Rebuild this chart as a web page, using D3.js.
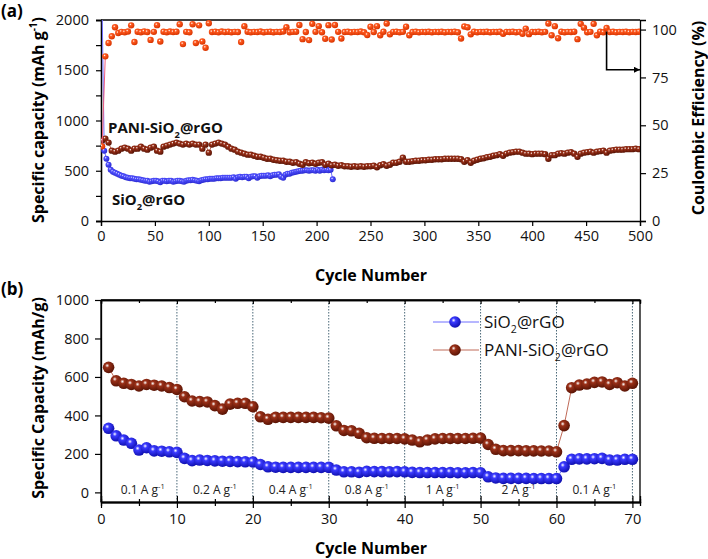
<!DOCTYPE html>
<html><head><meta charset="utf-8">
<script src="https://cdn.jsdelivr.net/npm/d3@7"></script>
<style>body{margin:0;background:#fff} text{font-family:"Open Sans",sans-serif}</style>
</head><body><svg id="c" width="708" height="559"></svg>
<script>
// ---------- Panel (a) data ----------
const cycleTicksA = [0,50,100,150,200,250,300,350,400,450,500];
const capTicksA = [0,500,1000,1500,2000];
const ceTicksA = [0,25,50,75,100];
// SiO2@rGO, cycles 1,3,5,...
const stepSiO2A = 2;
const siO2A = [2150,700,620,560,510,490,480,470,460,450,445,435,430,425,425,420,415,415,410,405,
 400,400,390,395,400,400,395,385,400,400,395,400,400,390,395,400,400,395,390,400,
 405,405,410,405,400,395,405,410,415,415,420,420,420,425,425,425,430,430,430,430,
 430,435,420,435,440,435,440,440,425,440,445,445,430,445,450,450,450,455,445,455,
 460,460,465,440,430,460,470,470,480,485,490,495,500,500,505,505,500,505,505,500,
 510,500,510,505,510,505,510,415];
// PANI-SiO2@rGO, cycles 1,4,7,...
const stepPaniA = 3;
const paniA = [800,820,780,700,690,700,720,730,720,700,720,720,740,720,710,730,740,700,690,740,
 750,760,770,780,770,760,770,760,770,760,760,720,760,680,760,770,780,770,760,740,
 720,710,690,680,670,660,660,650,640,640,630,620,620,610,605,600,600,590,590,580,
 585,570,560,585,575,580,570,580,585,560,570,555,560,550,555,545,545,540,545,540,
 545,540,545,545,550,535,555,565,550,560,580,580,590,630,590,590,595,600,600,605,
 605,610,610,615,615,615,620,620,620,620,620,615,590,605,580,600,610,620,625,635,
 640,650,655,665,650,670,680,685,690,690,680,670,670,665,670,670,670,665,620,655,
 655,670,675,670,680,685,670,640,670,680,685,690,680,690,695,700,680,700,705,710,
 710,710,715,715,715,720,715];
// Coulombic efficiency (%), cycles 1,4,7,...
const stepCEA = 3;
const ceA = [39,86,93,96.5,101.2,98.2,98.8,98.6,99.0,102.2,93.5,98.9,98.6,99.0,98.7,94.6,98.8,102.3,93.8,98.9,
 98.6,99.0,98.7,98.9,102.8,92.4,98.8,98.6,102.8,93.0,102.2,93.8,90.5,103.3,98.7,98.9,98.6,99.0,98.7,98.9,
 98.6,98.8,98.7,93.5,101.8,98.9,98.6,98.8,98.7,99.0,98.6,98.8,98.9,98.6,98.8,98.7,99.0,101.2,98.6,98.8,
 98.9,102.4,95.0,98.7,94.5,103.0,98.8,101.8,98.6,95.2,102.3,94.8,102.4,98.8,95.3,98.7,98.9,98.6,98.8,98.7,
 99.0,98.6,97.2,101.5,98.7,101.8,97.0,98.9,103.2,97.5,98.8,98.9,98.6,98.8,101.5,97.0,98.7,98.9,98.6,98.8,
 98.7,98.9,98.6,98.8,98.7,98.9,98.6,98.8,98.7,98.9,98.6,95.3,101.6,101.2,97.5,98.9,98.6,98.8,98.7,98.9,
 98.6,98.8,98.7,98.9,97.8,98.8,98.7,98.9,98.6,98.8,97.8,100.5,97.6,98.8,98.7,98.9,98.6,98.8,103.2,97.0,
 101.8,95.5,98.9,98.6,98.8,98.7,98.9,95.0,103.0,101.0,98.6,98.8,103.0,97.0,98.9,98.6,100.8,98.7,98.9,98.6,
 98.8,98.7,98.9,98.6,98.8,98.7,98.9];

// ---------- Panel (b) data ----------
const cyclesB = d3.range(1, 71);
const cycleTicksB = [0,10,20,30,40,50,60,70];
const capTicksB = [0,200,400,600,800,1000];
const rateBounds = [10,20,30,40,50,60,70];
const rateLabels = ["0.1","0.2","0.4","0.8","1","2","0.1"];
const rateLabelPos = [5.5,15,25,35,45,55,65];
const siO2B = [333,294,272,255,220,232,216,214,211,208, 177,165,168,166,164,162,161,160,159,158,
 145,133,131,130,130,130,130,130,130,130, 116,107,107,104,109,108,108,107,108,107,
 104,103,103,103,103,103,102,102,103,102, 81,75,73,73,73,73,72,72,72,72,
 133,172,174,174,175,177,168,168,172,172];
const paniB = [650,580,567,561,553,561,557,553,545,535, 497,475,472,470,451,433,459,463,463,445,
 393,380,390,390,390,390,390,390,388,386, 346,322,320,307,284,281,280,280,280,278,
 272,263,272,278,280,280,280,280,281,282, 249,224,217,217,217,216,216,215,215,211,
 347,544,558,563,572,574,561,570,553,567];

const C = {blueLine:"#6f6fff", brownLine:"#c06a58", orangeLine:"#ff6a3a"};

const svg = d3.select("#c");
const defs = svg.append("defs");
function grad(id, base, dark) {
  const g = defs.append("radialGradient").attr("id", id).attr("cx","38%").attr("cy","35%").attr("r","65%");
  g.append("stop").attr("offset","0%").attr("stop-color","#ffffff");
  g.append("stop").attr("offset","28%").attr("stop-color",base);
  g.append("stop").attr("offset","100%").attr("stop-color",dark);
}
grad("gBlue","#3a3aff","#1010b0");
grad("gBlueA","#5050ff","#2a2ad0");
grad("gBrown","#9a3018","#5a1405");
grad("gOrange","#ff5a20","#d83400");

function rich(sel, parts, fs) {
  let off = 0;
  parts.forEach(p => {
    const target = p.sub ? fs*0.3 : p.sup ? -fs*0.42 : 0;
    const ts = sel.append("tspan").text(p.t).attr("dy", target - off);
    if (p.sub || p.sup) ts.attr("font-size", fs*0.62);
    off = target;
  });
}
const fmt = d3.format("d");
const TF = 14.5;

// ================= Panel (a) =================
const xA = d3.scaleLinear().domain([0,500]).range([101,640]);
const yA = d3.scaleLinear().domain([0,2000]).range([221,20]);
const yCE = d3.scaleLinear().domain([0,105]).range([221,20]);
const gA = svg.append("g");
defs.append("clipPath").attr("id","clipA").append("rect").attr("x",101).attr("y",20).attr("width",539).attr("height",201);

gA.append("g").attr("transform","translate(0,221)")
  .call(d3.axisBottom(xA).tickValues(cycleTicksA).tickSize(5).tickPadding(5).tickFormat(fmt));
gA.append("g").attr("transform","translate(101,0)")
  .call(d3.axisLeft(yA).tickValues(capTicksA).tickSize(5).tickPadding(7).tickFormat(fmt));
gA.append("g").attr("transform","translate(101,0)")
  .call(d3.axisLeft(yA).tickValues([250,750,1250,1750]).tickSize(5).tickFormat(""));
gA.append("g").attr("transform","translate(640,0)")
  .call(d3.axisRight(yCE).tickValues(ceTicksA).tickSize(6).tickPadding(6).tickFormat(fmt));
gA.append("line").attr("x1",101).attr("x2",640).attr("y1",20).attr("y2",20).attr("stroke","#000").attr("stroke-width",1.3);
gA.selectAll(".domain").attr("stroke","#000").attr("stroke-width",1.3);
gA.selectAll(".tick line").attr("stroke","#000").attr("stroke-width",1.2);
gA.selectAll(".tick text").attr("font-size",TF).attr("fill","#111").attr("font-family","Open Sans");

const plotA = gA.append("g").attr("clip-path","url(#clipA)");
function series(g, xs, ys, cx, cy, lineCol, lw, fill, r, lineN) {
  const pts = xs.map((x,i)=>[x, ys[i]]);
  const lp = lineN ? pts.slice(0, lineN) : pts;
  g.append("path").attr("d", d3.line().x(d=>cx(d[0])).y(d=>cy(d[1]))(lp))
    .attr("fill","none").attr("stroke",lineCol).attr("stroke-width",lw);
  g.append("g").selectAll("circle").data(pts).join("circle")
    .attr("cx",d=>cx(d[0])).attr("cy",d=>cy(d[1])).attr("r",r).attr("fill",fill);
}
const cycS = siO2A.map((_,i)=>1+i*stepSiO2A);
const cycP = paniA.map((_,i)=>1+i*stepPaniA);
const cycC = ceA.map((_,i)=>1+i*stepCEA);
series(plotA, cycS, siO2A, xA, yA, C.blueLine, 1, "url(#gBlueA)", 3);
series(plotA, cycP, paniA, xA, yA, C.brownLine, 1, "url(#gBrown)", 3.2);
series(plotA, cycC, ceA, xA, yCE, "#f06080", 1, "url(#gOrange)", 3.2, 2);

// arrow
defs.append("marker").attr("id","arr").attr("viewBox","0 0 10 10").attr("refX",10).attr("refY",5)
  .attr("markerWidth",14).attr("markerHeight",6).attr("markerUnits","userSpaceOnUse").attr("orient","auto")
  .append("path").attr("d","M0,0 L10,5 L0,10 z").attr("fill","#000");
gA.append("path").attr("d",`M${xA(469)},${yCE(99)} V${yCE(79)} H${xA(500)}`)
  .attr("fill","none").attr("stroke","#000").attr("stroke-width",1.6).attr("marker-end","url(#arr)");

// annotations
rich(gA.append("text").attr("x",108).attr("y",133).attr("font-size",15).attr("font-weight","bold").attr("fill","#111"),
  [{t:"PANI-SiO"},{t:"2",sub:true},{t:"@rGO"}],15);
rich(gA.append("text").attr("x",112).attr("y",205).attr("font-size",15).attr("font-weight","bold").attr("fill","#111"),
  [{t:"SiO"},{t:"2",sub:true},{t:"@rGO"}],15);

// titles
gA.append("text").attr("x",371).attr("y",281).attr("text-anchor","middle").attr("font-size",16).attr("font-weight","bold").text("Cycle Number");
rich(gA.append("text").attr("transform","translate(44,120) rotate(-90)").attr("text-anchor","middle").attr("font-size",16).attr("font-weight","bold"),
  [{t:"Specific capacity (mAh g"},{t:"-1",sup:true},{t:")"}],16);
gA.append("text").attr("transform","translate(704,118) rotate(-90)").attr("text-anchor","middle").attr("font-size",16).attr("font-weight","bold").text("Coulombic Efficiency (%)");
svg.append("text").attr("x",1).attr("y",17).attr("font-size",17).attr("font-weight","bold").text("(a)");

// ================= Panel (b) =================
const xB = d3.scaleLinear().domain([0,71]).range([101,640]);
const yB = d3.scaleLinear().domain([-50,1000]).range([502,300]);
const gB = svg.append("g");
// dotted separators
gB.append("g").selectAll("line").data(rateBounds).join("line")
  .attr("x1",d=>xB(d)).attr("x2",d=>xB(d)).attr("y1",300).attr("y2",502)
  .attr("stroke","#4a6878").attr("stroke-width",1).attr("stroke-dasharray","1.5,1.5");
const minorB = [5,15,25,35,45,55,65];
// axes
gB.append("g").attr("transform","translate(0,502)")
  .call(d3.axisBottom(xB).tickValues(cycleTicksB).tickSizeInner(6).tickSizeOuter(0).tickPadding(6).tickFormat(fmt));
gB.append("g").attr("transform","translate(0,502)")
  .call(d3.axisTop(xB).tickValues(cycleTicksB).tickSize(6).tickFormat(""));
gB.append("g").attr("transform","translate(0,502)")
  .call(d3.axisTop(xB).tickValues(minorB).tickSize(3).tickFormat(""));
gB.append("g").attr("transform","translate(0,502)")
  .call(d3.axisBottom(xB).tickValues(minorB).tickSize(4).tickFormat(""));
gB.append("g").attr("transform","translate(0,300)")
  .call(d3.axisBottom(xB).tickValues(cycleTicksB).tickSize(4).tickFormat(""));
gB.append("g").attr("transform","translate(0,300)")
  .call(d3.axisBottom(xB).tickValues(minorB).tickSize(3).tickFormat(""));
gB.append("g").attr("transform","translate(101,0)")
  .call(d3.axisLeft(yB).tickValues(capTicksB).tickSize(6).tickSizeOuter(0).tickPadding(6).tickFormat(fmt));
gB.append("line").attr("x1",640).attr("x2",640).attr("y1",300).attr("y2",502).attr("stroke","#000").attr("stroke-width",1.3);
gB.append("line").attr("x1",101).attr("x2",640).attr("y1",300).attr("y2",300).attr("stroke","#000").attr("stroke-width",1.3);
gB.append("line").attr("x1",101).attr("x2",101).attr("y1",300).attr("y2",502).attr("stroke","#000").attr("stroke-width",1.3);
gB.selectAll(".domain").attr("stroke","#000").attr("stroke-width",1.3);
gB.selectAll(".tick line").attr("stroke","#000").attr("stroke-width",1.2);
gB.selectAll(".tick text").attr("font-size",TF).attr("fill","#111").attr("font-family","Open Sans");

// rate labels
rateLabelPos.forEach((c,i)=>{
  rich(gB.append("text").attr("x",xB(c)).attr("y",494).attr("text-anchor","middle").attr("font-size",12).attr("fill","#222"),
    [{t:rateLabels[i]+" A g"},{t:"-1",sup:true}],12);
});

series(gB, cyclesB, siO2B, xB, yB, C.blueLine, 1, "url(#gBlue)", 5.8);
series(gB, cyclesB, paniB, xB, yB, C.brownLine, 1, "url(#gBrown)", 5.8);

// legend
const leg = gB.append("g");
[[322,"url(#gBlue)",C.blueLine,[{t:"SiO"},{t:"2",sub:true},{t:"@rGO"}]],
 [350,"url(#gBrown)",C.brownLine,[{t:"PANI-SiO"},{t:"2",sub:true},{t:"@rGO"}]]].forEach(([y,f,lc,parts])=>{
  leg.append("line").attr("x1",433).attr("x2",479).attr("y1",y).attr("y2",y).attr("stroke",lc).attr("stroke-width",1);
  leg.append("circle").attr("cx",455).attr("cy",y).attr("r",5.8).attr("fill",f);
  rich(leg.append("text").attr("x",484).attr("y",y+6).attr("font-size",17).attr("fill","#111"), parts, 17);
});

gB.append("text").attr("x",371).attr("y",554).attr("text-anchor","middle").attr("font-size",16).attr("font-weight","bold").text("Cycle Number");
gB.append("text").attr("transform","translate(44,398) rotate(-90)").attr("text-anchor","middle").attr("font-size",16).attr("font-weight","bold").text("Specific Capacity (mAh/g)");
svg.append("text").attr("x",1).attr("y",295).attr("font-size",17).attr("font-weight","bold").text("(b)");
</script></body></html>
